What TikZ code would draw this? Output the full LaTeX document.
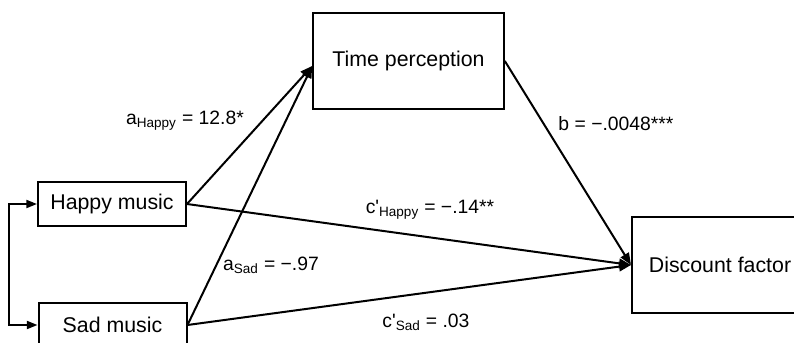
\documentclass[tikz,border=0pt]{standalone}
\usepackage{fontspec}
\setmainfont{Liberation Sans}
\usetikzlibrary{positioning, arrows.meta, calc}
\tikzset{
    varbox/.style={draw, line width=1.5pt, inner sep=0pt, font=\fontsize{16}{19}\selectfont},
    patharrow/.style={line width=1.5pt, -{Triangle[length=9pt, width=7pt]}},
    coeflabel/.style={font=\fontsize{14.5}{17}\selectfont, inner sep=1pt}
}

\begin{document}
\begin{tikzpicture}[x=0.75pt, y=-0.75pt]
                \useasboundingbox (0,0) rectangle (794,343);

                \node[varbox, minimum width=111pt, minimum height=33pt]
                    (happy) at (112, 204) {Happy music};
                \node[varbox, minimum width=111pt, minimum height=33pt]
                    (sad) at (112.5, 325) {Sad music};
                \node[varbox, minimum width=143pt, minimum height=72pt]
                    (time) at (408.5, 61) {Time perception};
                \node[varbox, minimum width=132pt, minimum height=72pt]
                    (discount) at (720, 265) {Discount factor};

                \coordinate (timein) at ($(time.west)+(0,5)$);

                \draw[patharrow] (happy.east) -- (timein);
                \draw[patharrow] (sad.east) -- (timein);
                \draw[patharrow] (happy.east) -- (discount.west);
                \draw[patharrow] (sad.east) -- (discount.west);
                \draw[patharrow] (time.east) -- (discount.west);
                \draw[line width=1.5pt, {Triangle[length=8pt, width=6pt]}-{Triangle[length=8pt, width=6pt]}]
                    (happy.west) -- ++(-28,0) |- (sad.west);

                \node[coeflabel] (ahappy) at (185, 121) {a\textsubscript{Happy} = 12.8*};
                \node[coeflabel] (bcoef) at (616, 124) {b = −.0048***};
                \node[coeflabel] (chappy) at (430, 210) {c\textquotesingle\textsubscript{Happy} = −.14**};
                \node[coeflabel] (asad) at (271, 265) {a\textsubscript{Sad} = −.97};
                \node[coeflabel] (csad) at (426, 322) {c\textquotesingle\textsubscript{Sad} = .03};

\end{tikzpicture}
\end{document}
